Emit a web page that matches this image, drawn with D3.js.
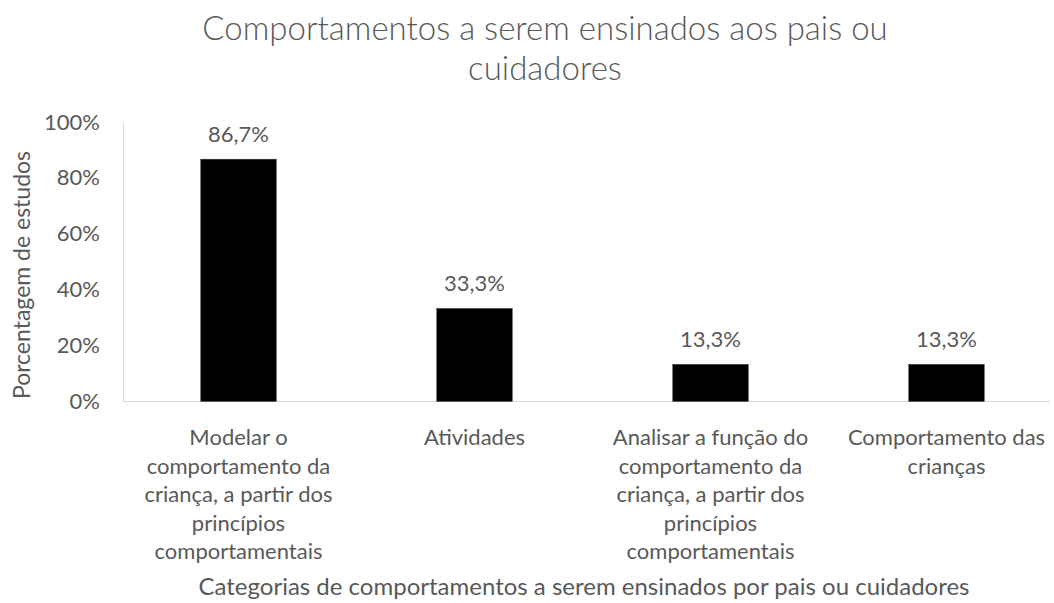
<!DOCTYPE html>
<html>
<head>
<meta charset="utf-8">
<script src="https://cdnjs.cloudflare.com/ajax/libs/d3/7.8.5/d3.min.js"></script>
<style>
  body { margin: 0; background: #fff; }
  text { font-family: Lato, "Open Sans", sans-serif; fill: #595959; }
</style>
</head>
<body>
<div id="chart"></div>
<script>
// chart data
var categories = [
  ["Modelar o", "comportamento da", "criança, a partir dos", "princípios", "comportamentais"],
  ["Atividades"],
  ["Analisar a função do", "comportamento da", "criança, a partir dos", "princípios", "comportamentais"],
  ["Comportamento das", "crianças"]
];
var values = [0.867, 0.333, 0.133, 0.133];
var valueLabels = ["86,7%", "33,3%", "13,3%", "13,3%"];
var yTicks = [0, 0.2, 0.4, 0.6, 0.8, 1.0];

var width = 1054, height = 603;

var svg = d3.select("#chart")
  .append("svg")
    .attr("width", width)
    .attr("height", height);

// scales
var x = d3.scaleBand()
  .domain(d3.range(categories.length))
  .range([120.5, 1064.5])
  .paddingInner(0.68)
  .paddingOuter(0.34);

var y = d3.scaleLinear()
  .domain([0, 1])
  .range([401.5, 122]);

// title
svg.append("text")
  .attr("x", 545)
  .attr("text-anchor", "middle")
  .style("font-size", "33px")
  .style("font-weight", 300)
  .selectAll("tspan")
  .data(["Comportamentos a serem ensinados aos pais ou", "cuidadores"])
  .enter().append("tspan")
    .attr("x", 545)
    .attr("y", function(d, i) { return 40 + i * 40; })
    .text(function(d) { return d; });

// y axis
var yAxis = svg.append("g")
  .attr("transform", "translate(123,0)")
  .call(d3.axisLeft(y).tickValues(yTicks).tickSize(0).tickPadding(23)
    .tickFormat(function(d) { return Math.round(d * 100) + "%"; }));
yAxis.select(".domain").attr("stroke", "#d9d9d9");
yAxis.selectAll("text")
  .style("font-size", "22px")
  .style("font-family", "Lato, sans-serif")
  .attr("fill", "#595959");

// baseline
svg.append("line")
  .attr("x1", 123).attr("x2", 1050)
  .attr("y1", y(0)).attr("y2", y(0))
  .attr("stroke", "#d9d9d9")
  .attr("stroke-width", 1);

// bars
svg.selectAll("rect.bar")
  .data(values)
  .enter().append("rect")
    .attr("class", "bar")
    .attr("x", function(d, i) { return x(i); })
    .attr("y", function(d) { return y(d); })
    .attr("width", x.bandwidth())
    .attr("height", function(d) { return y(0) - y(d); })
    .attr("fill", "#000")
    .attr("stroke", "#404040")
    .attr("stroke-width", 0.5);

// data labels
svg.selectAll("text.vlabel")
  .data(values)
  .enter().append("text")
    .attr("class", "vlabel")
    .attr("x", function(d, i) { return x(i) + x.bandwidth() / 2; })
    .attr("y", function(d) { return y(d) - 17; })
    .attr("text-anchor", "middle")
    .style("font-size", "22px")
    .text(function(d, i) { return valueLabels[i]; });

// category labels
var cat = svg.selectAll("text.cat")
  .data(categories)
  .enter().append("text")
    .attr("class", "cat")
    .attr("text-anchor", "middle")
    .style("font-size", "22px");
cat.selectAll("tspan")
  .data(function(d, i) { return d.map(function(line) { return {line: line, i: i}; }); })
  .enter().append("tspan")
    .attr("x", function(d) { return x(d.i) + x.bandwidth() / 2; })
    .attr("y", function(d, j) { return 445 + j * 28.5; })
    .text(function(d) { return d.line; });

// axis titles
svg.append("text")
  .attr("x", 584)
  .attr("y", 595)
  .attr("text-anchor", "middle")
  .style("font-size", "24px")
  .text("Categorias de comportamentos a serem ensinados por pais ou cuidadores");

svg.append("text")
  .attr("transform", "translate(30,275) rotate(-90)")
  .attr("text-anchor", "middle")
  .style("font-size", "23px")
  .text("Porcentagem de estudos");
</script>
</body>
</html>
